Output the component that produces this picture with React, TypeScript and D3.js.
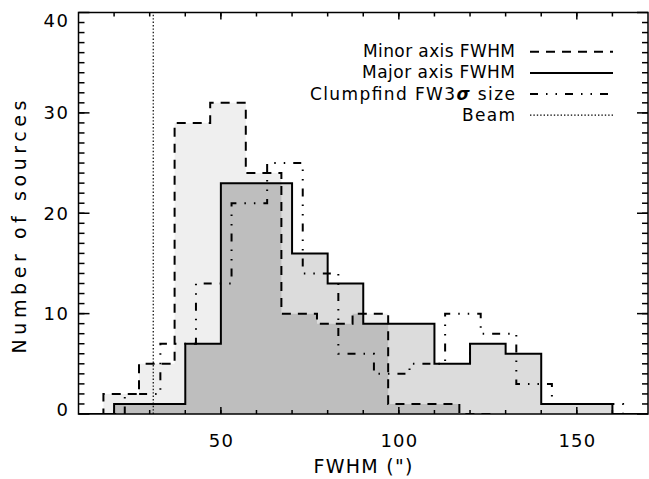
import { useEffect, useRef } from "react"
import { select, scaleLinear, range } from "d3"

// histogram bins (10" wide), counts
const binWidth = 10
const minorStart = 7
const minorCounts = [0, 2, 5, 29, 31, 24, 10, 9, 10, 1, 1, 0]
const majorStart = 10
const majorCounts = [0, 1, 1, 7, 23, 23, 16, 13, 9, 9, 5, 7, 6, 1, 1, 0]
const clumpStart = 13
const clumpCounts = [0, 2, 7, 13, 21, 25, 14, 6, 4, 5, 10, 8, 3, 1, 1, 0]
const beamSize = 31

const xMajorTicks = [50, 100, 150]
const xMinorTicks = range(20, 170, 10)
const yMajorTicks = [0, 10, 20, 30, 40]
const yMinorTicks = range(1, 40, 1)
const legendLabels = ["Minor axis FWHM", "Major axis FWHM", "Clumpfind FW3σ size", "Beam"]
const legendWidths = [152, 153, 205, 53]

const W = 649, H = 479
const FONT = "DejaVu Sans"

type Pt = [number, number]

function stepPoints(start: number, counts: number[]): Pt[] {
  const pts: Pt[] = [[start, 0]]
  counts.forEach((c, i) => {
    pts.push([start + i * binWidth, c])
    pts.push([start + (i + 1) * binWidth, c])
  })
  pts.push([start + counts.length * binWidth, 0])
  return pts
}

function valueAt(start: number, counts: number[], v: number) {
  const i = Math.floor((v - start) / binWidth)
  return i >= 0 && i < counts.length ? counts[i] : 0
}

export default function App() {
  const ref = useRef<SVGSVGElement>(null)

  useEffect(() => {
    const svg = select(ref.current)
    svg.selectAll("*").remove()

    const x = scaleLinear().domain([10, 170]).range([78.5, 648])
    const y = scaleLinear().domain([0, 40]).range([414, 12.5])
    const toPath = (pts: Pt[]) => "M" + pts.map(p => x(p[0]) + "," + y(p[1])).join("L")

    svg.append("defs").append("clipPath").attr("id", "plotclip")
      .append("rect").attr("x", x(10)).attr("y", y(40))
      .attr("width", x(170) - x(10)).attr("height", y(0) - y(40))

    const g = svg.append("g").attr("clip-path", "url(#plotclip)")

    // overlap = min of minor & major step functions
    const edges = Array.from(new Set([
      ...range(minorCounts.length + 1).map(i => minorStart + i * binWidth),
      ...range(majorCounts.length + 1).map(i => majorStart + i * binWidth),
    ])).sort((a, b) => a - b)
    const minPts: Pt[] = [[edges[0], 0]]
    for (let i = 0; i < edges.length - 1; i++) {
      const mid = (edges[i] + edges[i + 1]) / 2
      const v = Math.min(valueAt(minorStart, minorCounts, mid), valueAt(majorStart, majorCounts, mid))
      minPts.push([edges[i], v], [edges[i + 1], v])
    }
    minPts.push([edges[edges.length - 1], 0])

    g.append("path").attr("d", toPath(stepPoints(minorStart, minorCounts)) + "Z").attr("fill", "#efefef")
    g.append("path").attr("d", toPath(stepPoints(majorStart, majorCounts)) + "Z").attr("fill", "#dcdcdc")
    g.append("path").attr("d", toPath(minPts) + "Z").attr("fill", "#bebebe")

    // beam
    g.append("line").attr("x1", x(beamSize)).attr("x2", x(beamSize))
      .attr("y1", y(0)).attr("y2", y(40))
      .attr("stroke", "#000").attr("stroke-width", 1.2).attr("stroke-dasharray", "1.4,2")

    const styles = [
      { pts: stepPoints(minorStart, minorCounts), dash: "9,7" },
      { pts: stepPoints(majorStart, majorCounts), dash: null },
      { pts: stepPoints(clumpStart, clumpCounts), dash: "8,8,1.5,8,1.5,8" },
    ]
    styles.forEach(s => {
      g.append("path").attr("d", toPath(s.pts))
        .attr("fill", "none").attr("stroke", "#000").attr("stroke-width", 2)
        .attr("stroke-dasharray", s.dash)
    })

    // frame + ticks (IDL style, inward on all sides)
    const ax = svg.append("g").attr("stroke", "#000").attr("stroke-width", 1.5)
    ax.append("rect").attr("x", x(10)).attr("y", y(40))
      .attr("width", x(170) - x(10)).attr("height", y(0) - y(40)).attr("fill", "none")

    const xt = (v: number, len: number) => {
      ax.append("line").attr("x1", x(v)).attr("x2", x(v)).attr("y1", y(0)).attr("y2", y(0) - len)
      ax.append("line").attr("x1", x(v)).attr("x2", x(v)).attr("y1", y(40)).attr("y2", y(40) + len)
    }
    xMinorTicks.forEach(v => xt(v, 4))
    xMajorTicks.forEach(v => xt(v, 7))

    const yt = (v: number, len: number) => {
      ax.append("line").attr("x1", x(10)).attr("x2", x(10) + len).attr("y1", y(v)).attr("y2", y(v))
      ax.append("line").attr("x1", x(170)).attr("x2", x(170) - len).attr("y1", y(v)).attr("y2", y(v))
    }
    yMinorTicks.forEach(v => yt(v, 6))
    yMajorTicks.forEach(v => yt(v, 11))

    const txt = svg.append("g").attr("font-family", FONT).attr("font-size", 18).attr("fill", "#000")

    xMajorTicks.forEach(v => {
      txt.append("text").attr("x", x(v)).attr("y", 447).attr("text-anchor", "middle")
        .attr("textLength", String(v).length * 12.2).attr("lengthAdjust", "spacing").text(v)
    })
    yMajorTicks.forEach(v => {
      const cy = Math.max(20.5, Math.min(409.5, y(v)))
      txt.append("text").attr("x", 68).attr("y", cy + 6.5).attr("text-anchor", "end")
        .attr("textLength", String(v).length * 12.2).attr("lengthAdjust", "spacing").text(v)
    })

    txt.append("text").attr("x", 363).attr("y", 473).attr("text-anchor", "middle")
      .attr("font-size", 19).attr("textLength", 99).attr("lengthAdjust", "spacing").text('FWHM (")')
    txt.append("text").attr("transform", "translate(26,227) rotate(-90)")
      .attr("font-size", 19).attr("textLength", 253).attr("lengthAdjust", "spacing")
      .attr("text-anchor", "middle").text("Number of sources")

    // legend
    const legendDash = ["9,7", null, "8,8,1.5,8,1.5,8", "1.4,2"]
    legendLabels.forEach((lab, i) => {
      const by = 57.3 + i * 21.1
      const t = txt.append("text").attr("x", 515).attr("y", by).attr("text-anchor", "end")
        .attr("font-size", 17).attr("textLength", legendWidths[i]).attr("lengthAdjust", "spacing")
      if (lab.includes("σ")) {
        const [a, b] = lab.split("σ")
        t.append("tspan").text(a)
        t.append("tspan").attr("font-style", "italic").attr("font-weight", "bold").text("σ")
        t.append("tspan").text(b)
      } else {
        t.text(lab)
      }
      svg.append("line").attr("x1", 530).attr("x2", 613).attr("y1", by - 5.5).attr("y2", by - 5.5)
        .attr("stroke", "#000").attr("stroke-width", i === 3 ? 1.2 : 2)
        .attr("stroke-dasharray", legendDash[i])
    })
  }, [])

  return (
    <svg ref={ref} width={W} height={H} viewBox={`0 0 ${W} ${H}`}
      style={{ position: "absolute", left: 0, top: 0, background: "#fff" }} />
  )
}
